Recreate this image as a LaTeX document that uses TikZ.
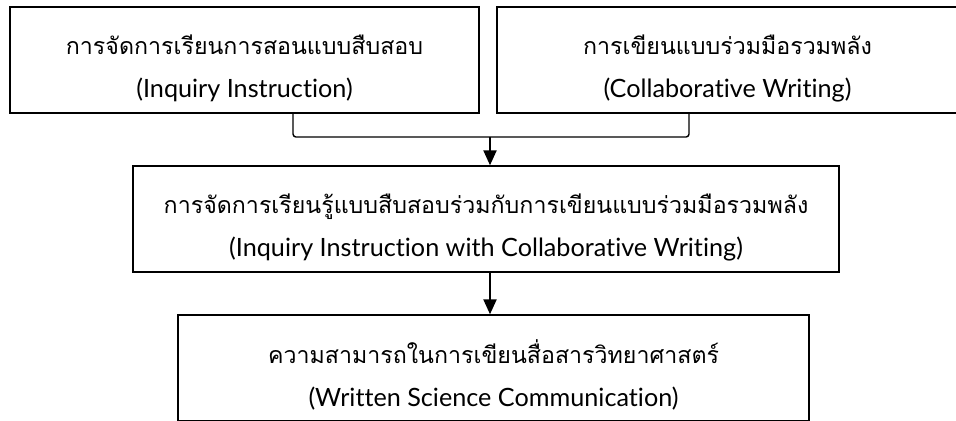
\documentclass[tikz,border=0pt]{standalone}
\usepackage{fontspec}
\setmainfont{Lato}[Ligatures=CommonOff]
\newfontfamily\thaifont[Script=Thai]{Loma}
\usetikzlibrary{arrows.meta,positioning}

\tikzset{
  stagebox/.style={draw, line width=0.7pt, minimum height=53pt, inner sep=0pt,
    align=center, font=\fontsize{12.6}{21.5}\selectfont},
  link/.style={line width=0.7pt, rounded corners=1.5pt},
  flow/.style={-{Triangle[length=7.5pt,width=6.5pt]}, line width=1.1pt},
}
% Thai line, with a strut to sit the text a little lower in the box
\newcommand{\thline}[1]{{\thaifont\fontsize{11.6}{21.5}\selectfont\rule{0pt}{18.5pt}#1}}

\begin{document}
\begin{tikzpicture}[x=0.5pt,y=-0.5pt]
  \useasboundingbox (0,0) rectangle (956,420);

  % the two starting blocks
  \node[stagebox, minimum width=234.5pt] (inquiry) at (244.5,60)
    {\thline{การจัดการเรียนการสอนแบบสืบสอบ}\\(Inquiry Instruction)};
  \node[stagebox, minimum width=230.5pt] (collab) at (727.5,60)
    {\thline{การเขียนแบบร่วมมือรวมพลัง}\\(Collaborative Writing)};

  % combined approach and outcome
  \node[stagebox, minimum width=353pt] (combined) at (486,219)
    {\thline{การจัดการเรียนรู้แบบสืบสอบร่วมกับการเขียนแบบร่วมมือรวมพลัง}\\(Inquiry Instruction with Collaborative Writing)};
  \node[stagebox, minimum width=315.5pt] (outcome) at (493.5,368)
    {\thline{ความสามารถในการเขียนสื่อสารวิทยาศาสตร์}\\(Written Science Communication)};

  \coordinate (join) at (490,137);
  \draw[link] ([xshift=24.25pt]inquiry.south) |- (join)
    -| ([xshift=-19.25pt]collab.south);
  \draw[flow] (join) -- (join |- combined.north);
  \draw[flow] (join |- combined.south) -- (join |- outcome.north);
\end{tikzpicture}
\end{document}
